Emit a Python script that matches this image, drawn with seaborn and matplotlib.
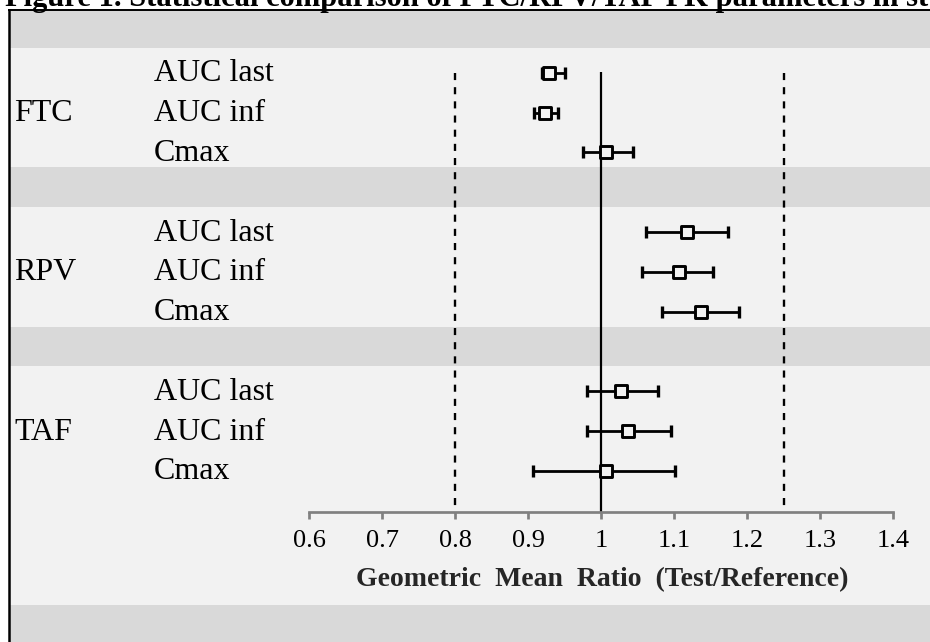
import numpy as np
import pandas as pd
import matplotlib
matplotlib.use("Agg")
import matplotlib.pyplot as plt
import seaborn as sns

# ---------------- data ----------------
groups = ["FTC", "RPV", "TAF"]
params = ["AUC last", "AUC inf", "Cmax"]
gmr = [0.929, 0.923, 1.007,
       1.118, 1.106, 1.136,
       1.027, 1.036, 1.006]
ci_low = [0.919, 0.908, 0.975,
          1.061, 1.056, 1.083,
          0.981, 0.981, 0.906]
ci_high = [0.950, 0.941, 1.043,
           1.173, 1.153, 1.188,
           1.077, 1.095, 1.101]
xtick_values = [0.6, 0.7, 0.8, 0.9, 1.0, 1.1, 1.2, 1.3, 1.4]
xtick_labels = ["0.6", "0.7", "0.8", "0.9", "1", "1.1", "1.2", "1.3", "1.4"]
be_limits = [0.8, 1.25]
unity = 1.0
title_text = "Figure 1. Statistical comparison of FTC/RPV/TAF PK parameters in st"
xlabel_text = "Geometric  Mean  Ratio  (Test/Reference)"

# ---------------- table ----------------
rows = []
k = 0
for gi, g in enumerate(groups):
    for pi, p in enumerate(params):
        rows.append(dict(group=g, param=p, gi=gi, pi=pi,
                         row=4 * gi + pi + 1,
                         gmr=gmr[k], lo=ci_low[k], hi=ci_high[k]))
        k += 1
df = pd.DataFrame(rows)

# ---------------- style ----------------
sns.set_theme(style="white")
plt.rcParams["font.family"] = ["Liberation Serif", "DejaVu Serif"]

W, H, DPI = 930, 642, 100
fig = plt.figure(figsize=(W / DPI, H / DPI), dpi=DPI, facecolor="white")
ax_left_px, ax_top_px = 9, 10
ax = fig.add_axes([ax_left_px / W, 0, (W - ax_left_px) / W, (H - ax_top_px) / H])
ax.set_facecolor("#d9d9d9")

# pixel <-> axis mapping
px_per_unit = 730.0
x0_px = 309.3
xmin = 0.6 - (x0_px - ax_left_px) / px_per_unit
xmax = 0.6 + (W - x0_px) / px_per_unit
row_a, row_b = 32.9, 39.8
ytop = (ax_top_px - row_a) / row_b
ybot = (H - row_a) / row_b
ax.set_xlim(xmin, xmax)
ax.set_ylim(ybot, ytop)

# light bands
for gi in range(len(groups)):
    top = 4 * gi + 0.38
    bot = 4 * gi + 3.38 if gi < len(groups) - 1 else 14.37
    ax.axhspan(top, bot, color="#f2f2f2", lw=0, zorder=0)

axis_row = 12.045

# reference lines
ax.vlines(unity, 0.97, axis_row, color="black", lw=1.6, zorder=2)
ax.vlines(be_limits, 1.0, axis_row, color="black", lw=1.7,
          linestyles=(0, (3.0, 3.0)), zorder=2)

# error bars
ax.errorbar(df["gmr"], df["row"],
            xerr=[df["gmr"] - df["lo"], df["hi"] - df["gmr"]],
            fmt="none", ecolor="black", elinewidth=2.0,
            capsize=4.5, capthick=2.4, zorder=3)

# points
sns.scatterplot(data=df, x="gmr", y="row", marker="s", s=64,
                facecolor="#f2f2f2", edgecolor="black", linewidth=2.1,
                zorder=4, ax=ax, legend=False)

# left labels
trans = matplotlib.transforms.blended_transform_factory(ax.transAxes, ax.transData)
gx = (14 - ax_left_px) / (W - ax_left_px)
px_ = (154 - ax_left_px) / (W - ax_left_px)
for gi, g in enumerate(groups):
    ax.text(gx, 4 * gi + 2 + 0.22, g, transform=trans, fontsize=23,
            va="baseline", ha="left", color="black")
for _, r in df.iterrows():
    ax.text(px_, r["row"] + 0.22, r["param"], transform=trans, fontsize=23,
            va="baseline", ha="left", color="black")

# spines / x axis
ax.spines["right"].set_visible(False)
ax.spines["left"].set_color("black")
ax.spines["left"].set_linewidth(1.8)
ax.spines["top"].set_color("black")
ax.spines["top"].set_linewidth(1.4)
ax.spines["bottom"].set_position(("data", axis_row))
ax.spines["bottom"].set_bounds(xtick_values[0], xtick_values[-1])
ax.spines["bottom"].set_color("#808080")
ax.spines["bottom"].set_linewidth(1.95)

ax.set_xticks(xtick_values)
ax.set_xticklabels(xtick_labels)
ax.tick_params(axis="x", direction="out", length=5, width=1.95, color="#808080",
               labelsize=19, labelcolor="black", pad=8, bottom=True)
ax.set_yticks([])
ax.set_ylabel("")
ax.set_xlabel(xlabel_text, fontsize=20, fontweight="bold", va="center")
ax.xaxis.set_label_coords((602 - ax_left_px) / (W - ax_left_px),
                          (H - 580) / (H - ax_top_px))

# caption above the frame, cut off at the top edge as in the source
fig.text(5 / W, 1 - 6 / H, title_text, fontsize=22, fontweight="bold",
         va="baseline", ha="left", color="black")

fig.savefig("out.png", dpi=DPI, facecolor="white")
